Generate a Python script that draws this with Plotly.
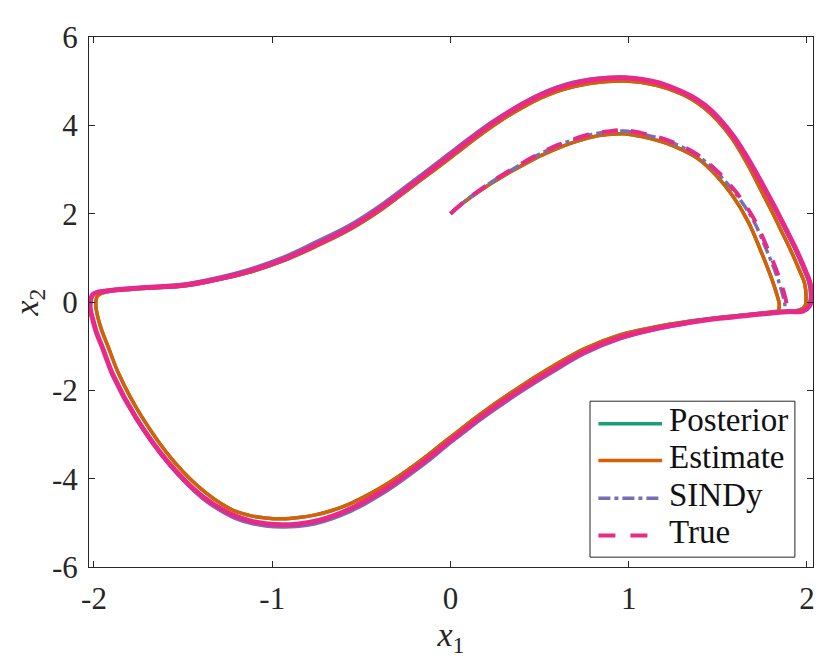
import plotly.graph_objects as go

# Colours (Dark2)
C_POST = "#1b9e77"
C_EST = "#d95f02"
C_SINDY = "#7570b3"
C_TRUE = "#e7298a"

# ---- True: first arc from (0, 2), then one pass of the limit cycle ----
TRUE_TR_X1 = [0.0, 0.08, 0.17, 0.25, 0.33, 0.41, 0.51, 0.60, 0.694, 0.788, 0.88, 0.974,
              1.067, 1.16, 1.253, 1.384, 1.50, 1.60, 1.70, 1.78, 1.84, 1.875, 1.886, 1.886]
TRUE_TR_X2 = [2.0, 2.28, 2.55, 2.77, 2.97, 3.16, 3.38, 3.55, 3.69, 3.80, 3.86, 3.89,
              3.83, 3.74, 3.61, 3.34, 2.95, 2.50, 1.90, 1.20, 0.60, 0.15, -0.05, -0.22]
TRUE_CY_X1 = [1.886, 1.70, 1.51, 1.33, 1.14, 0.955, 0.75, 0.564, 0.378, 0.173,
              0.08, -0.013, -0.106, -0.20, -0.292, -0.385, -0.479, -0.571, -0.665, -0.758,
              -0.85, -0.944, -1.037, -1.13, -1.223,
              -1.39, -1.577, -1.764, -1.894, -1.95, -1.987, -2.005, -2.022, -2.006, -1.93,
              -1.745, -1.50, -1.32, -1.13, -0.94,
              -0.76, -0.57, -0.385, -0.20, -0.05, 0.043, 0.136, 0.229, 0.322, 0.415,
              0.508, 0.60, 0.694, 0.788, 0.88, 0.974, 1.067, 1.16, 1.253, 1.346,
              1.43, 1.51, 1.59, 1.68, 1.775, 1.836, 1.886, 1.938, 1.99, 2.016,
              2.026, 2.014, 1.98, 1.886]
TRUE_CY_X2 = [-0.22, -0.29, -0.37, -0.47, -0.61, -0.80, -1.13, -1.56, -2.03, -2.60,
              -2.89, -3.18, -3.48, -3.77, -4.04, -4.29, -4.51, -4.70, -4.855, -4.965,
              -5.025, -5.045, -5.02, -4.95, -4.82,
              -4.41, -3.66, -2.62, -1.65, -1.06, -0.68, -0.42, -0.10, 0.17, 0.25,
              0.32, 0.38, 0.51, 0.70, 0.96,
              1.29, 1.67, 2.15, 2.71, 3.175, 3.47, 3.76, 4.03, 4.28, 4.50,
              4.69, 4.84, 4.95, 5.025, 5.065, 5.075, 5.045, 4.97, 4.84, 4.67,
              4.45, 4.14, 3.74, 3.17, 2.48, 2.02, 1.62, 1.20, 0.72, 0.45,
              0.12, -0.09, -0.20, -0.22]

# ---- Estimate (the Posterior lies underneath it) ----
EST_TR_X1 = [0.0, 0.08, 0.17, 0.25, 0.33, 0.41, 0.51, 0.60, 0.694, 0.788, 0.88, 0.974,
             1.067, 1.16, 1.253, 1.384, 1.49, 1.58, 1.67, 1.745, 1.80, 1.835, 1.845, 1.84]
EST_TR_X2 = [2.0, 2.27, 2.53, 2.74, 2.93, 3.11, 3.32, 3.48, 3.62, 3.73, 3.79, 3.81,
             3.75, 3.66, 3.53, 3.26, 2.87, 2.42, 1.82, 1.12, 0.55, 0.12, -0.05, -0.21]
EST_CY_X1 = [1.84, 1.70, 1.51, 1.33, 1.14, 0.955, 0.75, 0.564, 0.378, 0.173,
             0.08, -0.013, -0.106, -0.20, -0.292, -0.385, -0.479, -0.571, -0.665, -0.758,
             -0.85, -0.944, -1.037, -1.13, -1.223,
             -1.37, -1.55, -1.735, -1.862, -1.918, -1.955, -1.975, -1.99, -1.98, -1.93,
             -1.745, -1.50, -1.32, -1.13, -0.94,
             -0.76, -0.57, -0.385, -0.20, -0.05, 0.043, 0.136, 0.229, 0.322, 0.415,
             0.508, 0.60, 0.694, 0.788, 0.88, 0.974, 1.067, 1.16, 1.253, 1.346,
             1.425, 1.505, 1.58, 1.665, 1.755, 1.812, 1.86, 1.91, 1.962, 1.987,
             1.995, 1.99, 1.96, 1.84]
EST_CY_X2 = [-0.21, -0.27, -0.35, -0.44, -0.57, -0.74, -1.06, -1.48, -1.95, -2.52,
             -2.81, -3.10, -3.40, -3.69, -3.95, -4.19, -4.40, -4.58, -4.72, -4.82,
             -4.88, -4.91, -4.89, -4.83, -4.71,
             -4.33, -3.62, -2.58, -1.62, -1.04, -0.66, -0.40, -0.06, 0.14, 0.23,
             0.30, 0.36, 0.49, 0.67, 0.93,
             1.25, 1.63, 2.10, 2.66, 3.11, 3.40, 3.69, 3.96, 4.21, 4.43,
             4.62, 4.77, 4.88, 4.955, 4.995, 5.005, 4.975, 4.90, 4.78, 4.61,
             4.39, 4.08, 3.70, 3.13, 2.43, 1.98, 1.58, 1.16, 0.68, 0.42,
             0.08, -0.08, -0.18, -0.21]

# ---- SINDy ----
SINDY_TR_X1 = [0.0, 0.08, 0.17, 0.25, 0.33, 0.41, 0.51, 0.60, 0.694, 0.788, 0.88, 0.974,
               1.067, 1.16, 1.253, 1.384, 1.495, 1.595, 1.695, 1.773, 1.832, 1.866, 1.876, 1.875]
SINDY_TR_X2 = [2.0, 2.28, 2.55, 2.77, 2.96, 3.15, 3.37, 3.54, 3.68, 3.79, 3.85, 3.87,
               3.81, 3.72, 3.59, 3.32, 2.93, 2.48, 1.88, 1.18, 0.58, 0.13, -0.06, -0.22]
SINDY_CY_X1 = [1.875, 1.70, 1.51, 1.33, 1.14, 0.955, 0.75, 0.564, 0.378, 0.173,
               0.08, -0.013, -0.106, -0.20, -0.292, -0.385, -0.479, -0.571, -0.665, -0.758,
               -0.85, -0.944, -1.037, -1.13, -1.223,
               -1.39, -1.577, -1.764, -1.894, -1.95, -1.987, -2.005, -2.022, -2.006, -1.93,
               -1.745, -1.50, -1.32, -1.13, -0.94,
               -0.76, -0.57, -0.385, -0.20, -0.05, 0.043, 0.136, 0.229, 0.322, 0.415,
               0.508, 0.60, 0.694, 0.788, 0.88, 0.974, 1.067, 1.16, 1.253, 1.346,
               1.425, 1.505, 1.585, 1.675, 1.77, 1.83, 1.88, 1.932, 1.984, 2.01,
               2.02, 2.008, 1.975, 1.875]
SINDY_CY_X2 = [-0.22, -0.29, -0.37, -0.48, -0.63, -0.83, -1.17, -1.61, -2.08, -2.65,
               -2.94, -3.23, -3.54, -3.83, -4.10, -4.35, -4.57, -4.76, -4.91, -5.02,
               -5.08, -5.095, -5.07, -5.00, -4.87,
               -4.45, -3.69, -2.64, -1.66, -1.06, -0.68, -0.42, -0.10, 0.17, 0.26,
               0.33, 0.40, 0.54, 0.74, 1.01,
               1.35, 1.73, 2.21, 2.77, 3.23, 3.52, 3.80, 4.07, 4.31, 4.53,
               4.72, 4.87, 4.98, 5.05, 5.085, 5.09, 5.05, 4.97, 4.84, 4.67,
               4.45, 4.14, 3.74, 3.17, 2.48, 2.02, 1.62, 1.20, 0.72, 0.45,
               0.12, -0.09, -0.20, -0.22]

X_TICKS = [-2, -1, 0, 1, 2]
X_TICK_TEXT = ["-2", "-1", "0", "1", "2"]
Y_TICKS = [-6, -4, -2, 0, 2, 4, 6]
Y_TICK_TEXT = ["-6", "-4", "-2", "0", "2", "4", "6"]

LEGEND_NAMES = ["Posterior", "Estimate", "SINDy", "True"]

FONT = "Liberation Serif, Times New Roman, serif"
INK = "#262626"
SHAPE = dict(shape="spline", smoothing=1.0)

fig = go.Figure()

fig.add_trace(go.Scatter(x=EST_TR_X1 + EST_CY_X1, y=EST_TR_X2 + EST_CY_X2, mode="lines",
                         name="Posterior", line=dict(color=C_POST, width=3.5, **SHAPE)))
fig.add_trace(go.Scatter(x=EST_TR_X1 + EST_CY_X1, y=EST_TR_X2 + EST_CY_X2, mode="lines",
                         name="Estimate", line=dict(color=C_EST, width=3.5, **SHAPE)))
# repeated loops overlap, so the cycle reads as a solid band; the first arc shows the dashes
fig.add_trace(go.Scatter(x=SINDY_CY_X1, y=SINDY_CY_X2, mode="lines", name="SINDy",
                         line=dict(color=C_SINDY, width=3.5, **SHAPE)))
fig.add_trace(go.Scatter(x=SINDY_TR_X1, y=SINDY_TR_X2, mode="lines", name="SINDy",
                         line=dict(color=C_SINDY, width=3.5, dash="12px,4px,4px,4px", **SHAPE)))
fig.add_trace(go.Scatter(x=TRUE_CY_X1, y=TRUE_CY_X2, mode="lines", name="True",
                         line=dict(color=C_TRUE, width=5, **SHAPE)))
fig.add_trace(go.Scatter(x=TRUE_TR_X1, y=TRUE_TR_X2, mode="lines", name="True",
                         line=dict(color=C_TRUE, width=4, dash="16px,13px", **SHAPE)))

axis_common = dict(showgrid=False, zeroline=False, showline=True, linecolor=INK,
                   linewidth=1, mirror="ticks", ticks="inside", ticklen=6,
                   tickcolor=INK, tickfont=dict(family=FONT, size=31, color=INK))

fig.update_xaxes(range=[-2.028, 2.034], tickvals=X_TICKS, ticktext=X_TICK_TEXT,
                 ticklabelstandoff=4,
                 title=dict(text="<i>x</i><sub>1</sub>", font=dict(family=FONT, size=34, color=INK),
                            standoff=4),
                 **axis_common)
fig.update_yaxes(range=[-6, 6], tickvals=Y_TICKS, ticktext=Y_TICK_TEXT,
                 ticklabelstandoff=4,
                 title=dict(text="<i>x</i><sub>2</sub>", font=dict(family=FONT, size=34, color=INK),
                            standoff=8),
                 **axis_common)

# legend drawn by hand so the line samples get MATLAB's length
leg_styles = [dict(color=C_POST, width=3.5, dash="solid"),
              dict(color=C_EST, width=3.5, dash="solid"),
              dict(color=C_SINDY, width=3.5, dash="12px,4px,4px,4px"),
              dict(color=C_TRUE, width=4, dash="17px,15px")]
leg_rows = [0.2705, 0.2011, 0.1298, 0.0596]
shapes = [dict(type="rect", xref="paper", yref="paper", x0=0.692, x1=0.975, y0=0.0186, y1=0.3128,
               line=dict(color=INK, width=1), fillcolor="white", layer="above")]
annotations = []
for name, style, yr in zip(LEGEND_NAMES, leg_styles, leg_rows):
    shapes.append(dict(type="line", xref="paper", yref="paper", x0=0.7036, x1=0.7916, y0=yr, y1=yr,
                       line=style, layer="above"))
    annotations.append(dict(text=name, xref="paper", yref="paper", x=0.7988, y=yr + 0.006,
                            xanchor="left", yanchor="middle", showarrow=False,
                            font=dict(family=FONT, size=33, color="#111111")))

fig.update_layout(
    width=830, height=664,
    margin=dict(l=78, r=25, t=22, b=105),
    plot_bgcolor="white", paper_bgcolor="white",
    showlegend=False,
    shapes=shapes, annotations=annotations,
)

fig.write_html("out.html")
